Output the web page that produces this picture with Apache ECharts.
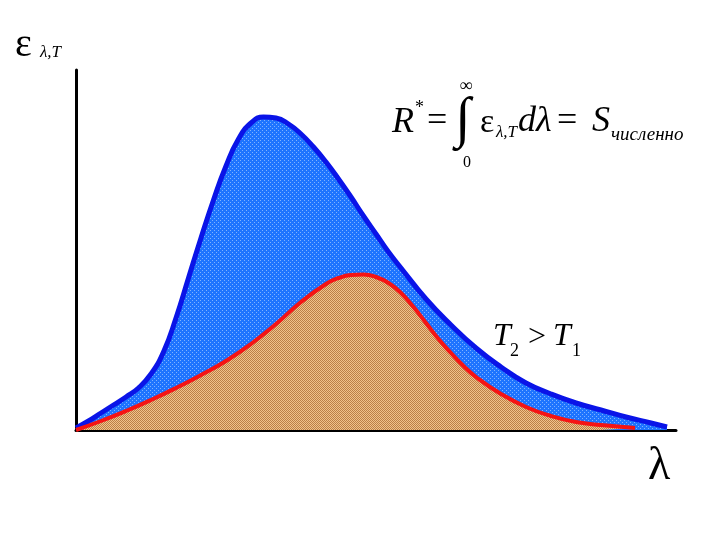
<!DOCTYPE html>
<html>
<head>
<meta charset="utf-8">
<script src="https://cdn.jsdelivr.net/npm/echarts@6/dist/echarts.min.js"></script>
<style>html,body{margin:0;padding:0;background:#fff}#c{width:720px;height:540px}</style>
</head>
<body>
<div id="c"></div>
<script>
// Higher temperature curve T2 (blue)
const blueX = [0,0.125,0.25,0.375,0.5,0.625,0.75,0.875,1.0,1.125,1.25,1.375,1.5,1.625,1.75,1.875,2.0,2.125,2.25,2.375,2.5,2.625,2.75,2.875,3.0,3.125,3.25,3.5,3.75,4.0,4.25,4.5,4.75,5.0,5.25,5.5,5.75,5.91];
const blueY = [0.02,0.09,0.17,0.25,0.33,0.42,0.56,0.78,1.12,1.52,1.92,2.30,2.64,2.91,3.07,3.13,3.12,3.06,2.96,2.83,2.68,2.51,2.33,2.14,1.96,1.78,1.62,1.31,1.05,0.82,0.63,0.47,0.36,0.27,0.20,0.13,0.07,0.03];
// Lower temperature curve T1 (red)
const redX = [0,0.25,0.5,0.75,1.0,1.25,1.5,1.75,2.0,2.25,2.5,2.625,2.75,2.875,3.0,3.125,3.25,3.375,3.5,3.625,3.75,3.875,4.0,4.25,4.5,4.75,5.0,5.25,5.59];
const redY = [0,0.09,0.19,0.30,0.42,0.55,0.69,0.86,1.06,1.28,1.46,1.52,1.55,1.555,1.53,1.47,1.37,1.23,1.07,0.91,0.77,0.64,0.53,0.36,0.23,0.14,0.08,0.05,0.02];

const xRange = [0, 6];
const yRange = [0, 3.6];

function pattern(w, h, draw) {
  const c = document.createElement('canvas');
  c.width = w; c.height = h;
  draw(c.getContext('2d'));
  return { image: c, repeat: 'repeat' };
}
const bluePattern = pattern(4, 4, g => {
  g.fillStyle = '#1e74ff'; g.fillRect(0, 0, 4, 4);
  g.fillStyle = '#7fb2ff'; g.fillRect(0, 0, 1, 1); g.fillRect(2, 2, 1, 1);
});
const tanPattern = pattern(2, 2, g => {
  g.fillStyle = '#f2c28a'; g.fillRect(0, 0, 2, 2);
  g.fillStyle = '#bb8048'; g.fillRect(0, 0, 1, 1); g.fillRect(1, 1, 1, 1);
});

const zip = (xs, ys) => xs.map((x, i) => [x, ys[i]]);
const SERIF = '"Liberation Serif", "Times New Roman", serif';

function txt(text, x, y, size, opts) {
  opts = opts || {};
  return {
    type: 'text', z: 100,
    style: {
      text: text, x: x, y: y,
      font: (opts.italic ? 'italic ' : 'normal ') + size + 'px ' + (opts.family || SERIF),
      fill: '#000', align: opts.align || 'left', verticalAlign: 'middle'
    }
  };
}

const chart = echarts.init(document.getElementById('c'), null, { renderer: 'canvas' });
chart.setOption({
  animation: false,
  backgroundColor: '#ffffff',
  grid: { left: 76, right: 44, top: 70, bottom: 110 },
  xAxis: {
    type: 'value', min: xRange[0], max: xRange[1],
    axisLine: { show: true, onZero: false, lineStyle: { color: '#000', width: 3 } },
    axisTick: { show: false }, axisLabel: { show: false }, splitLine: { show: false }
  },
  yAxis: {
    type: 'value', min: yRange[0], max: yRange[1],
    axisLine: { show: true, lineStyle: { color: '#000', width: 3 } },
    axisTick: { show: false }, axisLabel: { show: false }, splitLine: { show: false }
  },
  series: [
    {
      type: 'line', data: zip(blueX, blueY), smooth: 0.5, symbol: 'none', z: 2,
      lineStyle: { color: '#0a14e8', width: 5, join: 'round' },
      areaStyle: { color: bluePattern, opacity: 1 }
    },
    {
      type: 'line', data: zip(redX, redY), smooth: 0.5, symbol: 'none', z: 3,
      lineStyle: { color: '#f51414', width: 4, join: 'round' },
      areaStyle: { color: tanPattern, opacity: 1 }
    }
  ],
  graphic: [
    txt('ε', 15, 45, 40),
    txt('λ,T', 40, 53, 17, { italic: true }),
    txt('λ', 648, 467, 46),
    txt('R', 392, 123, 36, { italic: true }),
    txt('*', 415, 108, 18),
    txt('=', 427, 122, 36),
    txt('∫', 455, 121, 56),
    txt('∞', 466, 86, 18, { align: 'center' }),
    txt('0', 467, 163, 16, { align: 'center' }),
    txt('ε', 480, 123, 34),
    txt('λ,T', 496, 133, 17, { italic: true }),
    txt('dλ', 518, 122, 36, { italic: true }),
    txt('=', 557, 122, 36),
    txt('S', 592, 122, 36, { italic: true }),
    txt('численно', 611, 135, 19, { italic: true }),
    txt('T', 493, 337, 32, { italic: true }),
    txt('2', 510, 351, 18),
    txt('>', 528, 338, 32),
    txt('T', 553, 337, 32, { italic: true }),
    txt('1', 572, 351, 18)
  ]
});
</script>
</body>
</html>
